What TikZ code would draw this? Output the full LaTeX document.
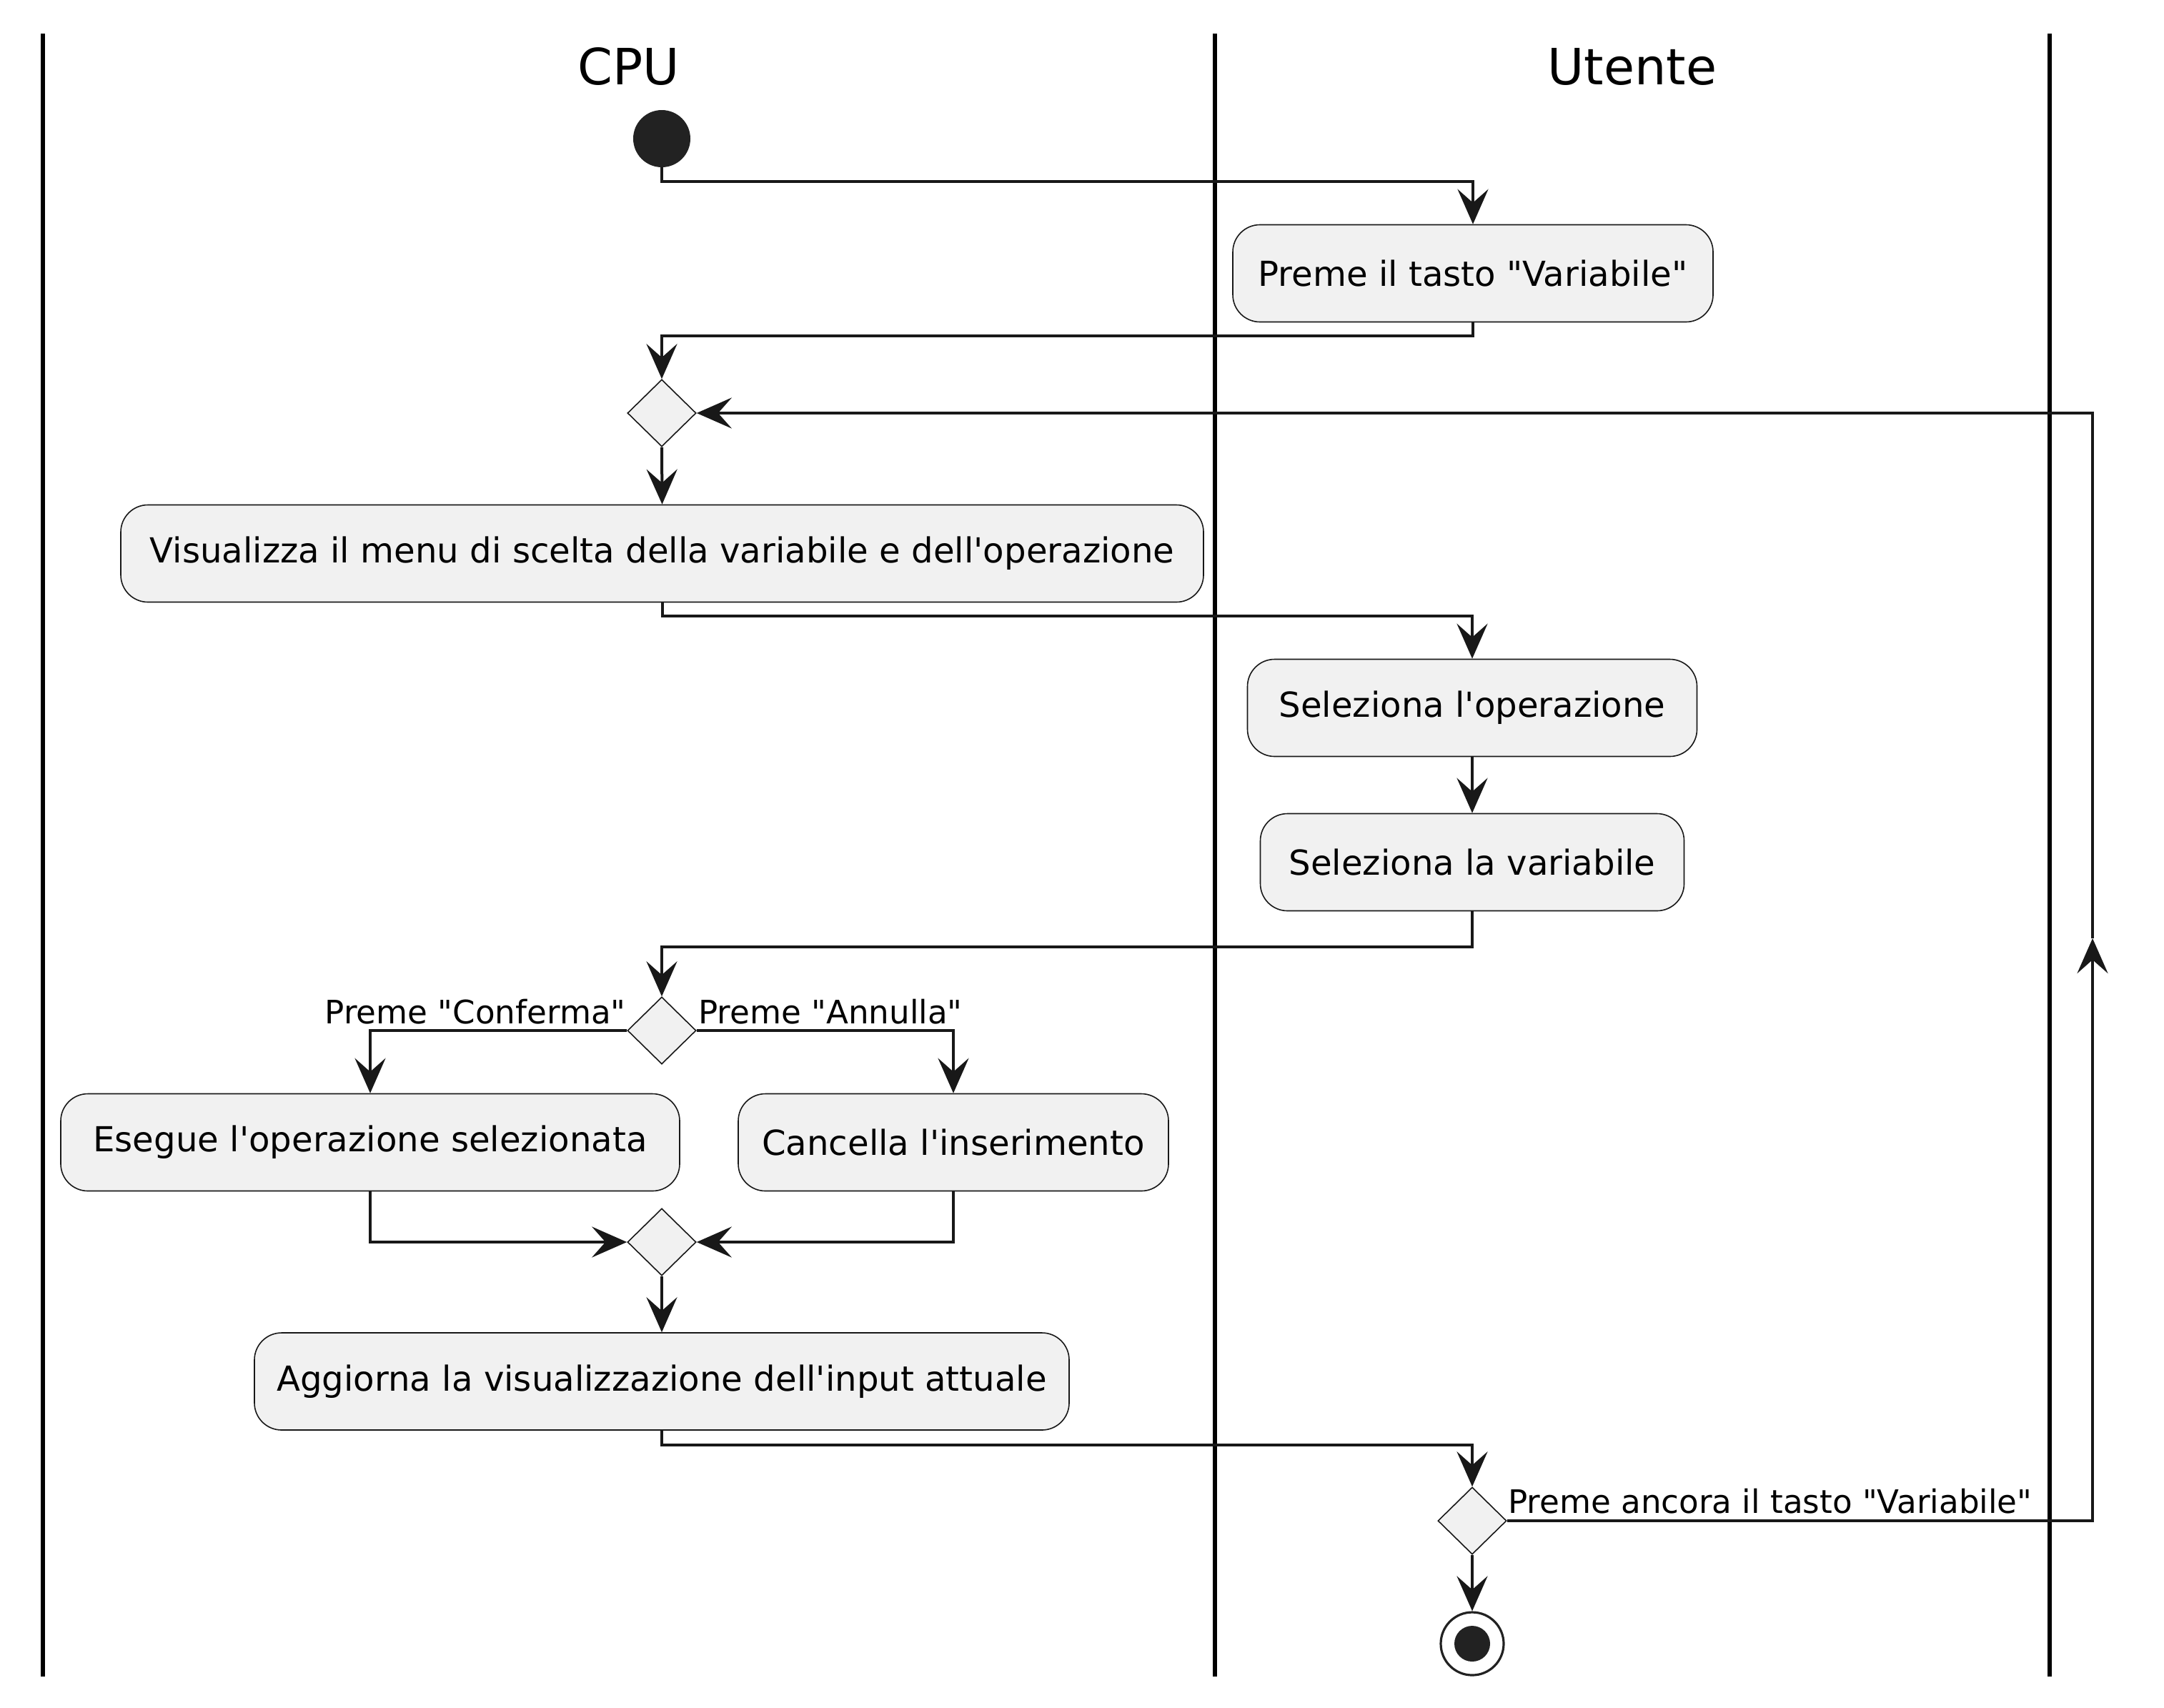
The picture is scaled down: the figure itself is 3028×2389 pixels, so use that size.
\documentclass[tikz,border=0pt]{standalone}
\usepackage{fontspec}
\setmainfont{DejaVu Sans}[Ligatures=TeXOff]
\usetikzlibrary{arrows.meta,shapes.geometric,calc}
\definecolor{boxfill}{HTML}{F1F1F1}
\definecolor{ink}{HTML}{181818}
\definecolor{dot}{HTML}{222222}
\begin{document}
\begin{tikzpicture}[x=0.5pt,y=-0.5pt,
  act/.style={draw=ink, line width=0.8pt, fill=boxfill, rounded corners=19pt,
    minimum height=68pt, inner xsep=6pt, inner ysep=0pt,
    font=\fontsize{24.1}{28}\selectfont, text=black},
  dec/.style={diamond, draw=ink, line width=0.8pt, fill=boxfill,
    minimum width=48pt, minimum height=47pt, inner sep=0pt},
  conn/.style={draw=ink, line width=2pt,
    -{Stealth[length=24.5pt,width=21.5pt,inset=9.5pt,fill=ink]}},
  lane/.style={draw=black, line width=3pt},
  lanetitle/.style={font=\fontsize{35}{42}\selectfont, inner sep=0pt},
  lbl/.style={font=\fontsize{22.6}{27}\selectfont, inner sep=0pt, text=black}
]
\useasboundingbox[fill=white] (0,0) rectangle (3028,2389);

% swimlanes
\draw[lane] (60,47) -- (60,2346);
\draw[lane] (1700,47) -- (1700,2346);
\draw[lane] (2868,47) -- (2868,2346);
\node[lanetitle, anchor=base] (tcpu) at (880,118) {CPU};
\node[lanetitle, anchor=base] (tut) at (2284,118) {Utente};

% nodes
\node[circle, fill=dot, minimum size=40pt, inner sep=0pt] (start) at (926,194) {};
\node[act, minimum width=336pt] (preme) at (2061,382.5) {Preme il tasto "Variabile"};
\node[dec] (d1) at (926,578) {};
\node[act, minimum width=757.5pt] (vis) at (926.5,774.5) {Visualizza il menu di scelta della variabile e dell'operazione};
\node[act, minimum width=314.5pt] (selop) at (2060,990.5) {Seleziona l'operazione};
\node[act, minimum width=296.5pt] (selvar) at (2060,1206.5) {Seleziona la variabile};
\node[dec] (d2) at (926,1442) {};
\node[act, minimum width=433pt] (esegue) at (518,1598.5) {Esegue l'operazione selezionata};
\node[act, minimum width=301pt] (canc) at (1334,1598.5) {Cancella l'inserimento};
\node[dec] (d3) at (926,1738) {};
\node[act, minimum width=570pt] (agg) at (926,1933) {Aggiorna la visualizzazione dell'input attuale};
\node[dec] (d4) at (2060,2128) {};
\node[circle, draw=dot, line width=1.6pt, minimum size=44pt, inner sep=0pt] (stop) at (2060,2300) {};
\node[circle, fill=dot, minimum size=25pt, inner sep=0pt] (stopin) at (stop) {};

% labels
\node[lbl, anchor=base east] (lconf) at (876,1432) {Preme "Conferma"};
\node[lbl, anchor=base west] (lann) at (977,1432) {Preme "Annulla"};
\node[lbl, anchor=base west] (lagain) at (2110,2117) {Preme ancora il tasto "Variabile"};

% connectors
\draw[conn] (start.south) -- ++(0,20) -| (preme.north);
\draw[conn] (preme.south) -- ++(0,19) -| (d1.north);
\draw[conn] (d1.south) -- (vis.north);
\draw[conn] (vis.south) -- ++(0,19) -| (selop.north);
\draw[conn] (selop.south) -- (selvar.north);
\draw[conn] (selvar.south) -- ++(0,50) -| (d2.north);
\draw[conn] (d2.west) -| (esegue.north);
\draw[conn] (d2.east) -| (canc.north);
\draw[conn] (esegue.south) |- (d3.west);
\draw[conn] (canc.south) |- (d3.east);
\draw[conn] (d3.south) -- (agg.north);
\draw[conn] (agg.south) -- ++(0,20) -| (d4.north);
\draw[conn] (d4.south) -- (stop.north);
\coordinate (loopmid) at (2928,1313);
\draw[conn] (d4.east) -| (loopmid);
\draw[conn] (loopmid) |- (d1.east);
\end{tikzpicture}
\end{document}
